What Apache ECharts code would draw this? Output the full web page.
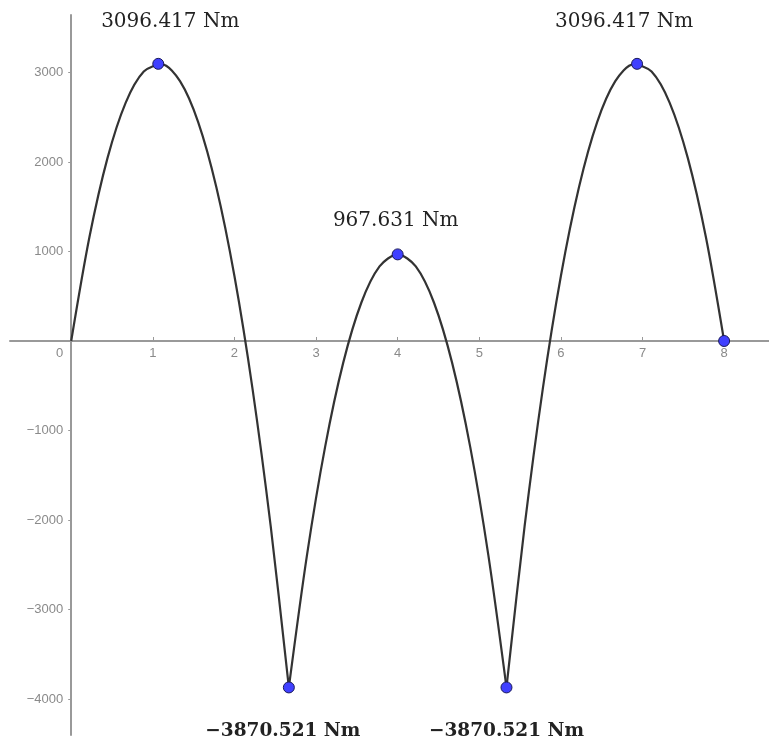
<!DOCTYPE html>
<html><head><meta charset="utf-8">
<script src="https://cdn.jsdelivr.net/npm/echarts@6/dist/echarts.min.js"></script>
<style>html,body{margin:0;padding:0;background:#fff}#c{width:769px;height:744px}</style>
</head><body><div id="c"></div>
<script>
// Bending moment curve (x in m, M in Nm), one array per span
const span1X = [0, 0.2222, 0.4444, 0.6667, 0.8889, 1.1111, 1.3333, 1.5556, 1.7778, 2.0, 2.2222, 2.4444, 2.6667];
const span1M = [0, 1155.8, 2042.8, 2661.0, 3010.4, 3091.0, 2902.9, 2445.9, 1720.2, 725.7, -537.6, -2069.7, -3870.521];
const span2X = [2.6667, 2.8889, 3.1111, 3.3333, 3.5556, 3.7778, 4.0, 4.2222, 4.4444, 4.6667, 4.8889, 5.1111, 5.3333];
const span2M = [-3870.521, -2392.2, -1182.7, -241.9, 430.1, 833.2, 967.631, 833.2, 430.1, -241.9, -1182.7, -2392.2, -3870.521];
const span3X = [5.3333, 5.5556, 5.7778, 6.0, 6.2222, 6.4444, 6.6667, 6.8889, 7.1111, 7.3333, 7.5556, 7.7778, 8.0];
const span3M = [-3870.521, -2069.7, -537.6, 725.7, 1720.2, 2445.9, 2902.9, 3091.0, 3010.4, 2661.0, 2042.8, 1155.8, 0];

// Marked points and their annotations
const pointX = [1.0667, 2.6667, 4.0, 5.3333, 6.9333, 8.0];
const pointM = [3096.417, -3870.521, 967.631, -3870.521, 3096.417, 0];
const pointText = ['3096.417 Nm', '\u22123870.521 Nm', '967.631 Nm', '\u22123870.521 Nm', '3096.417 Nm', ''];

const xTicks = [0, 1, 2, 3, 4, 5, 6, 7, 8];
const yTicks = [-4000, -3000, -2000, -1000, 1000, 2000, 3000];

const X_MIN = -0.75, X_MAX = 8.55, Y_MIN = -4402, Y_MAX = 3642;
const GRID = { left: 10, right: 0, top: 15, bottom: 9 };
const W = 769, H = 744;

function pairs(xs, ys) { return xs.map((x, i) => [x, ys[i]]); }

// put axes through the origin (grid-relative offsets derived from the axis ranges)
const gridW = W - GRID.left - GRID.right, gridH = H - GRID.top - GRID.bottom;
const xAxisOffset = -(gridH * (0 - Y_MIN) / (Y_MAX - Y_MIN));
const yAxisOffset = -(gridW * (0 - X_MIN) / (X_MAX - X_MIN));

const labelStyles = [
  { position: 'top', offset: [12, -21], fontWeight: 'normal' },
  { position: 'bottom', offset: [-6, 23], fontWeight: 'bold' },
  { position: 'top', offset: [-2, -13], fontWeight: 'normal' },
  { position: 'bottom', offset: [0, 23], fontWeight: 'bold' },
  { position: 'top', offset: [-13, -21], fontWeight: 'normal' },
  { position: 'top', offset: [0, 0], fontWeight: 'normal' }
];

const pointData = pointX.map((x, i) => ({
  value: [x, pointM[i]],
  label: {
    show: pointText[i] !== '',
    formatter: pointText[i],
    position: labelStyles[i].position,
    offset: labelStyles[i].offset,
    fontWeight: labelStyles[i].fontWeight,
    fontFamily: 'DejaVu Serif',
    fontSize: labelStyles[i].fontWeight === 'bold' ? 18.5 : 20,
    color: '#222'
  }
}));

const lineStyle = { color: '#333333', width: 2.2 };
function spanSeries(xs, ys) {
  return { type: 'line', data: pairs(xs, ys), smooth: 0.3, showSymbol: false, symbol: 'none',
           lineStyle: lineStyle, silent: true, z: 2 };
}

const axisFont = { color: '#8a8a8a', fontSize: 13, fontFamily: 'Liberation Sans' };

const chart = echarts.init(document.getElementById('c'), null, { renderer: 'canvas' });
chart.setOption({
  animation: false,
  backgroundColor: '#ffffff',
  grid: Object.assign({ containLabel: false, outerBoundsMode: 'none' }, GRID),
  xAxis: {
    type: 'value', min: X_MIN, max: X_MAX, position: 'bottom', offset: xAxisOffset,
    splitLine: { show: false },
    axisLine: { onZero: false, lineStyle: { color: '#999', width: 2 } },
    axisTick: { show: true, customValues: xTicks, length: 4, inside: true, lineStyle: { color: '#999', width: 1 } },
    axisLabel: Object.assign({
      customValues: xTicks, margin: 6,
      formatter: v => v === 0 ? '{z|0}' : String(v),
      rich: { z: Object.assign({ padding: [0, 23, 0, 0] }, axisFont) }
    }, axisFont)
  },
  yAxis: {
    type: 'value', min: Y_MIN, max: Y_MAX, position: 'left', offset: yAxisOffset,
    splitLine: { show: false },
    axisLine: { onZero: false, lineStyle: { color: '#999', width: 2 } },
    axisTick: { show: true, customValues: yTicks, length: 3, lineStyle: { color: '#999', width: 1 } },
    axisLabel: Object.assign({
      customValues: yTicks, margin: 8,
      formatter: v => String(v).replace('-', '\u2212')
    }, axisFont)
  },
  series: [
    spanSeries(span1X, span1M),
    spanSeries(span2X, span2M),
    spanSeries(span3X, span3M),
    {
      type: 'scatter', data: pointData, symbol: 'circle', symbolSize: 11, z: 5,
      itemStyle: { color: '#4040ff', borderColor: '#1a1a5a', borderWidth: 1, opacity: 1 }
    }
  ]
});
</script>
</body></html>
